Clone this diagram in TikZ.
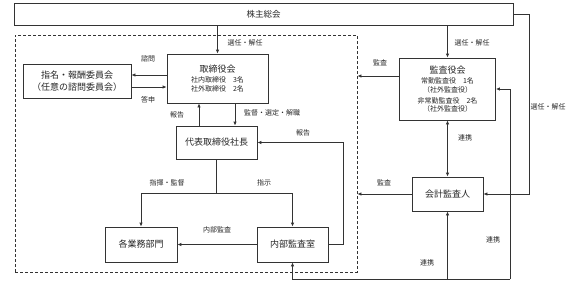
\documentclass[tikz,border=0pt]{standalone}
\usepackage{fontspec}
\newfontfamily\jp{Noto Sans CJK JP}
\usetikzlibrary{arrows.meta}
\begin{document}
\begin{tikzpicture}[x=1pt,y=-1pt,
  every node/.style={font=\jp, text=black!85},
  box/.style={draw=black!80, line width=0.8pt, fill=white, inner sep=0pt, font=\jp\fontsize{9}{11}\selectfont},
  lbl/.style={font=\jp\fontsize{7}{8}\selectfont, inner sep=0pt},
  ln/.style={draw=black!80, line width=0.8pt},
  arr/.style={ln, -{Latex[length=4pt,width=3.5pt]}},
  arrb/.style={ln, {Latex[length=4pt,width=3.5pt]}-{Latex[length=4pt,width=3.5pt]}},
  dbox/.style={draw=black!80, line width=0.8pt, dash pattern=on 3pt off 2pt, inner sep=0pt}
]
\useasboundingbox (0,0) rectangle (585,281);

% dashed region
\node[dbox, minimum width=342pt, minimum height=237pt] (inner) at (186,153.5) {};

% boxes
\node[box, minimum width=499pt, minimum height=22pt, font=\jp\fontsize{8.5}{10}\selectfont] (sh) at (263.5,14) {株主総会};
\node[box, minimum width=101pt, minimum height=49pt, align=center] (tb) at (217.5,78.5)
  {取締役会\\[-0.5pt]{\fontsize{7}{8}\selectfont 社内取締役　3名}\\[-2pt]{\fontsize{7}{8}\selectfont 社外取締役　2名}};
\node[box, minimum width=108pt, minimum height=34pt, align=center, font=\jp\fontsize{9}{12.5}\selectfont] (sm) at (77,81)
  {指名・報酬委員会\\（任意の諮問委員会）};
\node[box, minimum width=81pt, minimum height=33pt] (dh) at (216.5,142.5) {代表取締役社長};
\node[box, minimum width=72pt, minimum height=35pt] (gm) at (141,244.5) {各業務部門};
\node[box, minimum width=71pt, minimum height=35pt] (nb) at (292.5,244.5) {内部監査室};
\node[box, minimum width=96pt, minimum height=62pt, align=center] (ka) at (447.5,89)
  {監査役会\\[-0.5pt]{\fontsize{7}{8}\selectfont 常勤監査役　1名}\\[-2.5pt]{\fontsize{7}{8}\selectfont （社外監査役）}\\[0pt]{\fontsize{7}{8}\selectfont 非常勤監査役　2名}\\[-2.5pt]{\fontsize{7}{8}\selectfont （社外監査役）}};
\node[box, minimum width=71pt, minimum height=34pt] (kk) at (447.5,194) {会計監査人};

% coordinates
\coordinate (j) at (216.5,193);
\coordinate (cR) at (510,279);
\coordinate (cB) at (447.5,279);

% connectors
\draw[arr] (tb.north |- sh.south) -- (tb.north);
\draw[arr] (ka.north |- sh.south) -- (ka.north);
\draw[arr] (sh.east) -- ++(16,0) |- (kk.east);
\draw[arr] (tb.west |- 0,75) -- (sm.east |- 0,75);
\draw[arr] (sm.east |- 0,87) -- (tb.west |- 0,87);
\draw[arr] (dh.north -| 199,0) -- (tb.south -| 199,0);
\draw[arr] (tb.south -| 235,0) -- (dh.north -| 235,0);
\draw[ln] (dh.south) -- (j);
\draw[arr] (j) -| (gm.north);
\draw[arr] (j) -| (nb.north);
\draw[arr] (nb.west) -- (gm.east);
\draw[arr] (nb.east) -- ++(15,0) |- (dh.east);
\draw[arr] (ka.west |- 0,76) -- (inner.east |- 0,76);
\draw[arr] (kk.west) -- (inner.east |- kk.west);
\draw[arrb] (ka.south) -- (kk.north);
\draw[arr] (cR) |- (ka.east);
\draw[arr] (cR) -| (nb.south);
\draw[arr] (cB) -- (kk.south);

% labels
\node[lbl] (l1) at (148,59) {諮問};
\node[lbl] (l2) at (148,100) {答申};
\node[lbl] (l3) at (245,43) {選任・解任};
\node[lbl] (l4) at (177,115) {報告};
\node[lbl] (l5) at (272,113) {監督・選定・解職};
\node[lbl] (l6) at (303,133) {報告};
\node[lbl] (l7) at (167,183) {指揮・監督};
\node[lbl] (l8) at (264,183) {指示};
\node[lbl] (l9) at (217,230) {内部監査};
\node[lbl] (l10) at (472,43) {選任・解任};
\node[lbl] (l11) at (380,63) {監査};
\node[lbl] (l12) at (384,183) {監査};
\node[lbl] (l13) at (465,138) {連携};
\node[lbl] (l14) at (548,107) {選任・解任};
\node[lbl] (l15) at (427,263) {連携};
\node[lbl] (l16) at (493,240) {連携};
\end{tikzpicture}
\end{document}
